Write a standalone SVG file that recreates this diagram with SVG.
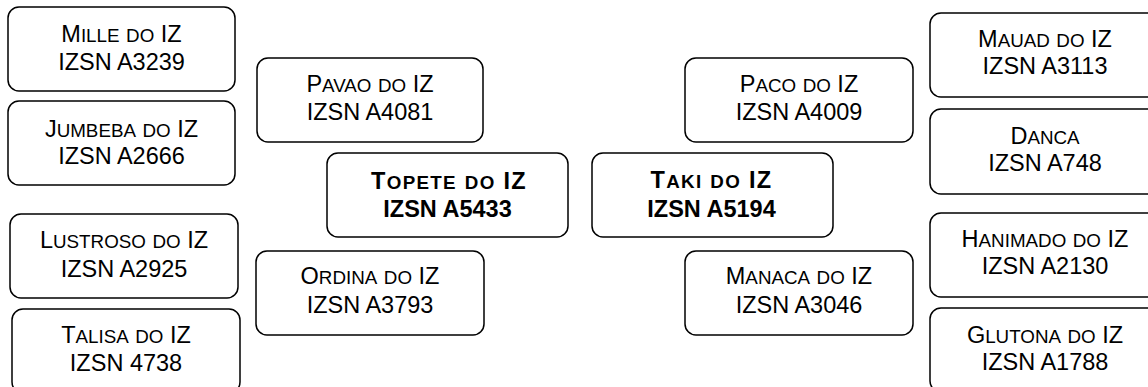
<svg xmlns="http://www.w3.org/2000/svg" width="1148" height="387" viewBox="0 0 1148 387">
<style>
.box{fill:#fff;stroke:#000;stroke-width:1.5}
.t{font-family:"Liberation Sans",Arial,sans-serif;font-size:23.5px;text-anchor:middle;fill:#000}
.b{font-weight:bold}
.w{letter-spacing:1.3px}
.sc{font-size:18.8px}
</style>
<rect width="1148" height="387" fill="#fff"/>
<g id="connectors"/>
<g id="mille"><rect class="box" x="8" y="7" width="227" height="84" rx="11"/>
<text class="t" x="121.5" y="41.7">M<tspan class="sc">ILLE</tspan> <tspan class="sc">DO</tspan> IZ</text>
<text class="t" x="121.5" y="70">IZSN A3239</text></g>
<g id="jumbeba"><rect class="box" x="8" y="101" width="227" height="84" rx="11"/>
<text class="t" x="121.5" y="136.5">J<tspan class="sc">UMBEBA</tspan> <tspan class="sc">DO</tspan> IZ</text>
<text class="t" x="121.5" y="163.5">IZSN A2666</text></g>
<g id="lustroso"><rect class="box" x="10" y="214" width="228" height="84" rx="11"/>
<text class="t" x="124" y="248.3">L<tspan class="sc">USTROSO</tspan> <tspan class="sc">DO</tspan> IZ</text>
<text class="t" x="124" y="276.7">IZSN A2925</text></g>
<g id="talisa"><rect class="box" x="12" y="309" width="228" height="84" rx="11"/>
<text class="t" x="126" y="343.3">T<tspan class="sc">ALISA</tspan> <tspan class="sc">DO</tspan> IZ</text>
<text class="t" x="126" y="370.7">IZSN 4738</text></g>
<g id="pavao"><rect class="box" x="257" y="58" width="226" height="84" rx="11"/>
<text class="t" x="370" y="91.7">P<tspan class="sc">AVAO</tspan> <tspan class="sc">DO</tspan> IZ</text>
<text class="t" x="370" y="120">IZSN A4081</text></g>
<g id="topete"><rect class="box" x="327" y="153" width="241" height="84" rx="11"/>
<text class="t b w" x="449" y="188.5">T<tspan class="sc">OPETE</tspan> <tspan class="sc">DO</tspan> IZ</text>
<text class="t b" x="447.5" y="216.7">IZSN A5433</text></g>
<g id="ordina"><rect class="box" x="256" y="251" width="228" height="84" rx="11"/>
<text class="t" x="370" y="284.2">O<tspan class="sc">RDINA</tspan> <tspan class="sc">DO</tspan> IZ</text>
<text class="t" x="370" y="312.7">IZSN A3793</text></g>
<g id="taki"><rect class="box" x="592" y="153" width="241" height="84" rx="11"/>
<text class="t b w" x="711.5" y="188.3">T<tspan class="sc">AKI</tspan> <tspan class="sc">DO</tspan> IZ</text>
<text class="t b" x="711.5" y="216.7">IZSN A5194</text></g>
<g id="paco"><rect class="box" x="685" y="58" width="228" height="84" rx="11"/>
<text class="t" x="799" y="91.7">P<tspan class="sc">ACO</tspan> <tspan class="sc">DO</tspan> IZ</text>
<text class="t" x="799" y="120">IZSN A4009</text></g>
<g id="manaca"><rect class="box" x="685" y="251" width="228" height="84" rx="11"/>
<text class="t" x="799" y="284.2">M<tspan class="sc">ANACA</tspan> <tspan class="sc">DO</tspan> IZ</text>
<text class="t" x="799" y="312.7">IZSN A3046</text></g>
<g id="mauad"><rect class="box" x="930" y="13" width="230" height="84" rx="11"/>
<text class="t" x="1045" y="46.7">M<tspan class="sc">AUAD</tspan> <tspan class="sc">DO</tspan> IZ</text>
<text class="t" x="1045" y="74">IZSN A3113</text></g>
<g id="danca"><rect class="box" x="930" y="109" width="230" height="85" rx="11"/>
<text class="t" x="1045" y="144">D<tspan class="sc">ANCA</tspan></text>
<text class="t" x="1045" y="170.7">IZSN A748</text></g>
<g id="hanimado"><rect class="box" x="930" y="213" width="230" height="84" rx="11"/>
<text class="t" x="1045" y="247.3">H<tspan class="sc">ANIMADO</tspan> <tspan class="sc">DO</tspan> IZ</text>
<text class="t" x="1045" y="273.5">IZSN A2130</text></g>
<g id="glutona"><rect class="box" x="930" y="308" width="230" height="84" rx="11"/>
<text class="t" x="1045" y="342.7">G<tspan class="sc">LUTONA</tspan> <tspan class="sc">DO</tspan> IZ</text>
<text class="t" x="1045" y="370">IZSN A1788</text></g>
</svg>
